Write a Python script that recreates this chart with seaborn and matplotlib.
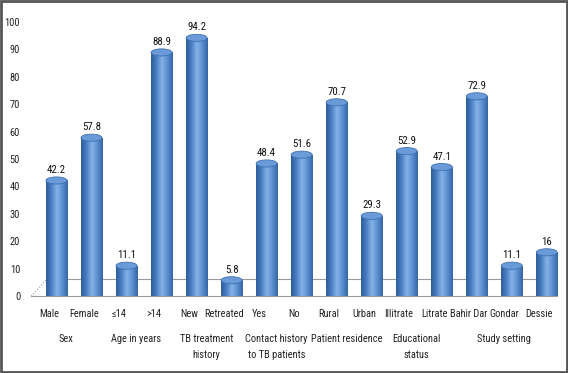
import numpy as np
import pandas as pd
import matplotlib
matplotlib.use("Agg")
import matplotlib.pyplot as plt
import matplotlib.transforms as mtransforms
from matplotlib.patches import Ellipse, Rectangle
from matplotlib import font_manager
import seaborn as sns

categories = ["Male", "Female", "\u226414", ">14", "New", "Retreated", "Yes", "No",
              "Rural", "Urban", "Illitrate", "Litrate", "Bahir Dar", "Gondar", "Dessie"]
values = [42.2, 57.8, 11.1, 88.9, 94.2, 5.8, 48.4, 51.6, 70.7, 29.3, 52.9, 47.1, 72.9, 11.1, 16]
value_labels = ["42.2", "57.8", "11.1", "88.9", "94.2", "5.8", "48.4", "51.6",
                "70.7", "29.3", "52.9", "47.1", "72.9", "11.1", "16"]
groups = ["Sex", "Age in years", "TB treatment\nhistory", "Contact history\nto TB patients",
          "Patient residence", "Educational\nstatus", "Study setting"]
group_members = [(0, 1), (2, 3), (4, 5), (6, 7), (8, 9), (10, 11), (12, 14)]

sns.set_style("white")
names = {f.name for f in font_manager.fontManager.ttflist}
narrow = [n for n in ["Liberation Sans Narrow", "Roboto Condensed", "Open Sans Condensed"] if n in names]
plt.rcParams['font.family'] = narrow + ['Liberation Sans', 'DejaVu Sans']
plt.rcParams['font.stretch'] = 'condensed'
fs = 7.5 if narrow else 6.8

df = pd.DataFrame({"cat": categories, "val": values})

fig = plt.figure(figsize=(5.68, 3.73), dpi=100)
ax = fig.add_axes([0.055, 0.206, 0.925, 0.735])

sns.barplot(data=df, x="cat", y="val", color="#4f81bd", width=0.6, ax=ax,
            saturation=1, edgecolor="none")

# cylinder look: horizontal gradient clipped to each bar + elliptical cap
cmap = matplotlib.colors.LinearSegmentedColormap.from_list(
    "cyl", ["#2d5c99", "#4a80c4", "#86b3e8", "#5b8fd0", "#3566a6"])
grad = np.linspace(0, 1, 64).reshape(1, -1)
shift = 0.22
for p in list(ax.patches):
    p.set_x(p.get_x() + shift)
    x0, w, h = p.get_x(), p.get_width(), p.get_height()
    im = ax.imshow(grad, cmap=cmap, aspect="auto", extent=[x0, x0 + w, 0, h],
                   zorder=2, interpolation="bicubic")
    im.set_clip_path(p)
    cap = Ellipse((x0 + w / 2, h), w, 2.6, facecolor="#6a9bd8",
                  edgecolor="#3f70b0", lw=0.6, zorder=3)
    ax.add_patch(cap)
    cap2 = Ellipse((x0 + w / 2, 0), w, 2.6, facecolor="#3566a6", edgecolor="none", zorder=1.9)
    ax.add_patch(cap2)

for i, (v, t) in enumerate(zip(values, value_labels)):
    ax.text(i + shift, v + 2.0, t, ha="center", va="bottom", fontsize=fs + 0.3, color="#111111")

ax.set_xlim(-0.5, 14.5)
ax.set_ylim(0, 100)
ax.set_yticks(range(0, 101, 10))
ax.set_xlabel("")
ax.set_ylabel("")
ax.tick_params(axis="y", labelsize=fs, colors="#222222", length=0, pad=8)
ax.tick_params(axis="x", labelsize=fs, colors="#222222", length=0, pad=9)

for s in ["top", "right", "left"]:
    ax.spines[s].set_visible(False)
ax.spines["bottom"].set_color("#9a9a9a")
ax.spines["bottom"].set_linewidth(0.8)

# back floor line and perspective edge
ax.axhline(6.2, xmin=0.03, xmax=1.0, color="#9a9a9a", lw=0.8, zorder=1)
ax.plot([-0.5, -0.05], [0, 6.2], color="#9a9a9a", lw=0.8, ls=":", zorder=1)

trans = mtransforms.blended_transform_factory(ax.transData, ax.transAxes)
for g, (a, b) in zip(groups, group_members):
    ax.text((a + b) / 2, -0.138, g, transform=trans, ha="center", va="top",
            fontsize=fs, color="#222222", linespacing=1.7)

fig.patches.append(Rectangle((0.002, 0.003), 0.996, 0.994, transform=fig.transFigure,
                             fill=False, edgecolor="#555555", lw=2))

fig.savefig("out.png", dpi=100)
